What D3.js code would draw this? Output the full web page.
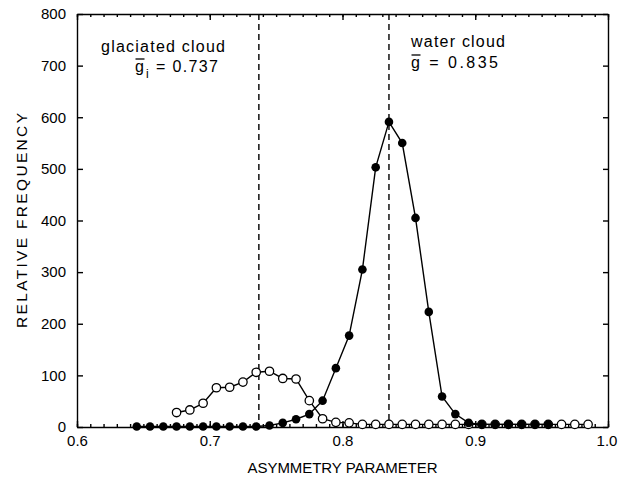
<!DOCTYPE html>
<html>
<head>
<meta charset="utf-8">
<script src="https://cdn.jsdelivr.net/npm/d3@7"></script>
<style>
  html, body { margin: 0; padding: 0; background: #fff; }
  svg { display: block; }
  text { font-family: "Liberation Sans", Arial, Helvetica, sans-serif; fill: #000; }
</style>
</head>
<body>
<svg id="chart" width="618" height="480"></svg>
<script>
// ---- data ----
const waterX = [0.645,0.655,0.665,0.675,0.685,0.695,0.705,0.715,0.725,0.735,0.745,0.755,0.765,0.775,0.785,0.795,0.805,0.815,0.825,0.835,0.845,0.855,0.865,0.875,0.885,0.895,0.905,0.915,0.925,0.935,0.945,0.955];
const waterY = [1,1,1,1,1,1,1,1,1,1,3,8,15,25,51,114,177,305,503,591,550,405,223,59,25,8,5,5,5,5,5,5];
const iceX = [0.675,0.685,0.695,0.705,0.715,0.725,0.735,0.745,0.755,0.765,0.775,0.785,0.795,0.805,0.815,0.825,0.835,0.845,0.855,0.865,0.875,0.885,0.895,0.905,0.915,0.925,0.935,0.945,0.955,0.965,0.975,0.985];
const iceY = [28,33,46,76,77,87,106,108,94,93,51,16,9,8,5,5,5,5,5,5,5,5,5,5,5,5,5,5,5,5,5,5];
const meanG = [0.737, 0.835];
const xTicks = [0.6,0.7,0.8,0.9,1.0];
const xTickLabels = ["0.6","0.7","0.8","0.9","1.0"];
const yTicks = [0,100,200,300,400,500,600,700,800];

// ---- layout ----
const svg = d3.select("#chart");
const L = 77, R = 608, T = 14, B = 427;
const x = d3.scaleLinear().domain([0.6, 1.0]).range([L, R]);
const y = d3.scaleLinear().domain([0, 800]).range([B, T]);

// minor ticks every 0.01
const xMinor = d3.range(0, 41).map(i => 0.6 + i * 0.01);

// bottom axis
const bottom = svg.append("g").attr("transform", `translate(0,${B})`)
  .call(d3.axisBottom(x).tickValues(xTicks).tickFormat((d,i) => xTickLabels[i]).tickSizeInner(-6).tickSizeOuter(0).tickPadding(8));
bottom.selectAll(".tick text").style("font-size", "15px")
  .attr("dx", (d,i) => i === xTicks.length - 1 ? -1.5 : 0);
svg.append("g").attr("transform", `translate(0,${B})`)
  .call(d3.axisBottom(x).tickValues(xMinor).tickFormat("").tickSizeInner(-3).tickSizeOuter(0))
  .select(".domain").remove();
// top axis
svg.append("g").attr("transform", `translate(0,${T})`)
  .call(d3.axisTop(x).tickValues(xTicks).tickFormat("").tickSizeInner(-6).tickSizeOuter(0));
svg.append("g").attr("transform", `translate(0,${T})`)
  .call(d3.axisTop(x).tickValues(xMinor).tickFormat("").tickSizeInner(-3).tickSizeOuter(0))
  .select(".domain").remove();
// left axis
const left = svg.append("g").attr("transform", `translate(${L},0)`)
  .call(d3.axisLeft(y).tickValues(yTicks).tickFormat(d3.format("d")).tickSizeInner(-6).tickSizeOuter(0).tickPadding(11));
left.selectAll(".tick text").style("font-size", "15px");
// right axis
svg.append("g").attr("transform", `translate(${R},0)`)
  .call(d3.axisRight(y).tickValues(yTicks).tickFormat("").tickSizeInner(-5).tickSizeOuter(0));

svg.selectAll(".domain, .tick line").attr("stroke", "#000").attr("stroke-width", 1.4);

// axis titles
svg.append("text").attr("x", (L + R) / 2).attr("y", 473).attr("text-anchor", "middle")
  .style("font-size", "15px").attr("textLength", 190).attr("lengthAdjust", "spacing")
  .text("ASYMMETRY PARAMETER");
svg.append("text").attr("transform", `translate(27,${(T + B) / 2}) rotate(-90)`).attr("text-anchor", "middle")
  .style("font-size", "15.5px").attr("textLength", 215).attr("lengthAdjust", "spacing")
  .text("RELATIVE FREQUENCY");

// dashed mean lines
svg.selectAll("line.mean").data(meanG).enter().append("line").attr("class", "mean")
  .attr("x1", d => x(d)).attr("x2", d => x(d)).attr("y1", T).attr("y2", B)
  .attr("stroke", "#000").attr("stroke-width", 1.4).attr("stroke-dasharray", "6,4");

// series
const iceData = iceX.map((v, i) => [v, iceY[i]]);
const waterData = waterX.map((v, i) => [v, waterY[i]]);
const line = d3.line().x(d => x(d[0])).y(d => y(d[1]));

svg.append("path").datum(iceData).attr("d", line).attr("fill", "none").attr("stroke", "#000").attr("stroke-width", 1.4);
svg.append("path").datum(waterData).attr("d", line).attr("fill", "none").attr("stroke", "#000").attr("stroke-width", 1.4);

svg.selectAll("circle.ice").data(iceData).enter().append("circle").attr("class", "ice")
  .attr("cx", d => x(d[0])).attr("cy", d => y(d[1])).attr("r", 4.2)
  .attr("fill", "#fff").attr("stroke", "#000").attr("stroke-width", 1.3);
svg.selectAll("circle.water").data(waterData).enter().append("circle").attr("class", "water")
  .attr("cx", d => x(d[0])).attr("cy", d => y(d[1])).attr("r", 4.3)
  .attr("fill", "#000");

// annotations
svg.append("text").attr("x", 101).attr("y", 52).style("font-size", "16px")
  .attr("textLength", 124).attr("lengthAdjust", "spacing").text("glaciated cloud");
svg.append("text").attr("x", 135).attr("y", 72).style("font-size", "16px").text("g");
svg.append("text").attr("x", 146).attr("y", 78).style("font-size", "12px").text("i");
svg.append("text").attr("x", 156).attr("y", 72).style("font-size", "16px")
  .attr("textLength", 62).attr("lengthAdjust", "spacing").text("= 0.737");
svg.append("line").attr("x1", 135.5).attr("x2", 144.5).attr("y1", 59).attr("y2", 59).attr("stroke", "#000").attr("stroke-width", 1.3);

svg.append("text").attr("x", 411).attr("y", 47).style("font-size", "16px")
  .attr("textLength", 94).attr("lengthAdjust", "spacing").text("water cloud");
svg.append("text").attr("x", 411).attr("y", 68).style("font-size", "16px")
  .attr("textLength", 87).attr("lengthAdjust", "spacing").text("g  =  0.835");
svg.append("line").attr("x1", 411.5).attr("x2", 420.5).attr("y1", 55).attr("y2", 55).attr("stroke", "#000").attr("stroke-width", 1.3);
</script>
</body>
</html>
